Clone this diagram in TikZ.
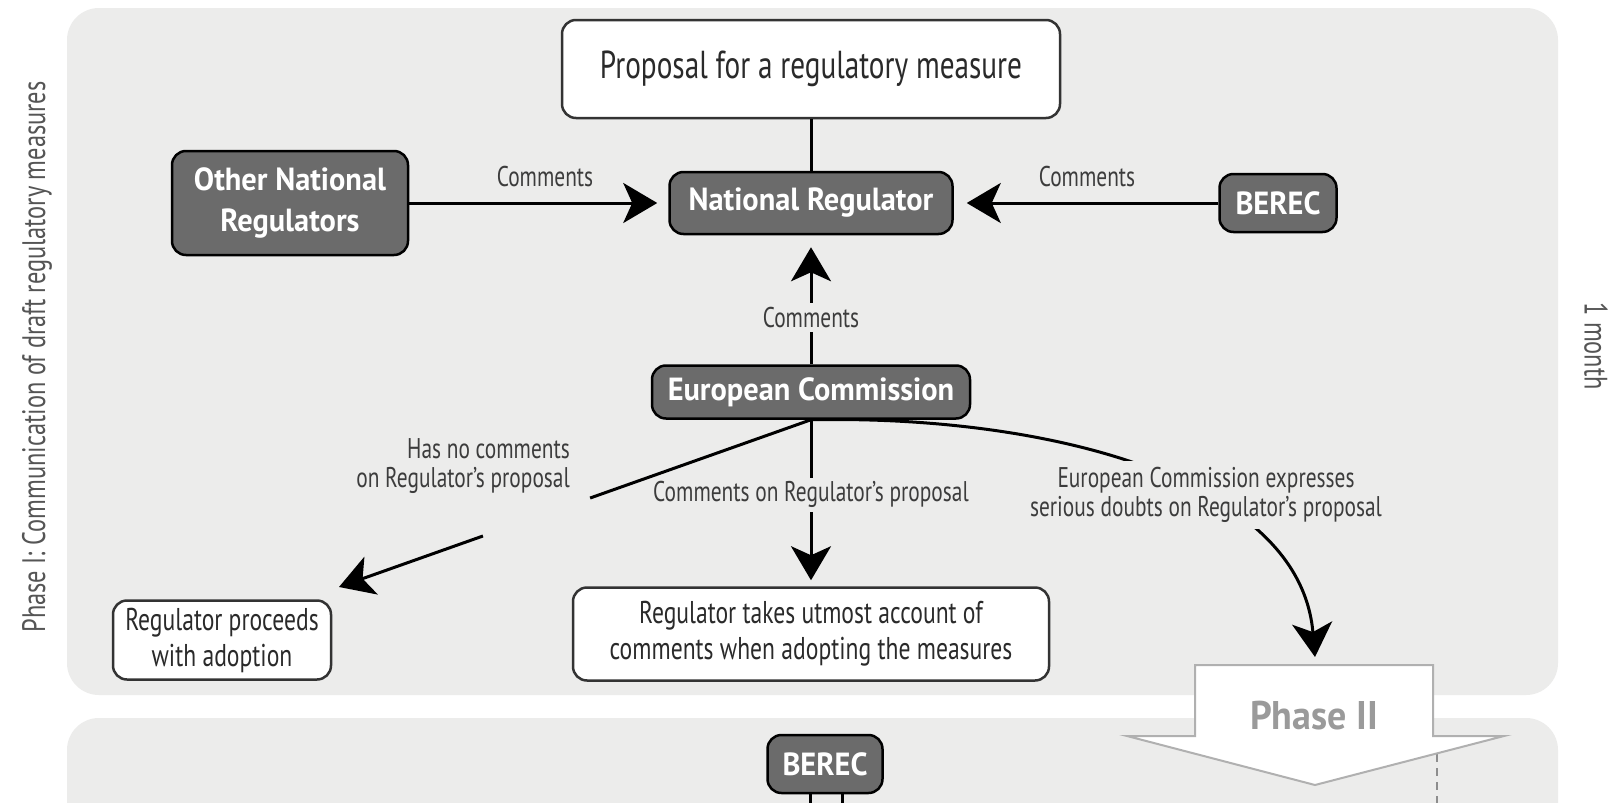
\documentclass[tikz,border=0pt]{standalone}
\usepackage{fontspec}
\usetikzlibrary{arrows.meta,calc}
\newfontfamily\regf{PT Sans}[FakeStretch=0.75]
\newfontfamily\boldf{PT Sans}[FakeStretch=0.95]
\definecolor{panel}{HTML}{ECECEB}
\definecolor{boxgray}{HTML}{6B6B6B}
\definecolor{edge}{HTML}{333333}
\definecolor{txt}{HTML}{2A2A2A}
\definecolor{lbltxt}{HTML}{3C3C3C}
\definecolor{sidetxt}{HTML}{555555}
\definecolor{phtext}{HTML}{9A9A9A}
\definecolor{phedge}{HTML}{B0B0B0}
\tikzset{
  darkbox/.style={draw=black, line width=2.5pt, fill=boxgray, rounded corners=14pt,
    text=white, font=\boldf\bfseries\fontsize{32}{41}\selectfont, align=center, inner sep=0pt},
  whitebox/.style={draw=edge, line width=2.5pt, fill=white, rounded corners=14pt,
    align=center, inner sep=0pt, text=txt},
  boxtext/.style={font=\regf\fontsize{31.5}{36}\selectfont},
  lbl/.style={font=\regf\fontsize{28.5}{29}\selectfont, text=lbltxt, inner sep=4pt},
  masklbl/.style={lbl, fill=panel},
  conn/.style={line width=3pt, draw=black},
  arr/.style={conn, -{Stealth[length=34pt,width=40pt,inset=9pt]}},
  sidelbl/.style={font=\regf\fontsize{32.5}{34}\selectfont, text=sidetxt}
}
\begin{document}
\begin{tikzpicture}[x=1pt,y=-1pt]
\clip (0,0) rectangle (1610,803);
\fill[white] (0,0) rectangle (1610,803);
% panels
\fill[panel, rounded corners=32pt] (67,8) rectangle (1558,695);
\fill[panel, rounded corners=32pt] (67,718) rectangle (1558,900);
% side labels
\node[sidelbl, rotate=90] (phaseone) at (37,357) {Phase I: Communication of draft regulatory measures};
\node[sidelbl, rotate=-90] (month) at (1596,346) {1 month};
% nodes
\node[whitebox, font=\regf\fontsize{39}{40}\selectfont, minimum width=498pt, minimum height=98pt] (prop) at (811,69) {Proposal for a regulatory measure};
\node[darkbox, minimum width=283pt, minimum height=62pt] (nr) at (811,203) {National Regulator};
\node[darkbox, minimum width=236pt, minimum height=104pt] (onr) at (290,203) {Other National\\Regulators};
\node[darkbox, minimum width=117pt, minimum height=58pt] (berec) at (1278,203) {BEREC};
\node[darkbox, minimum width=318pt, minimum height=53pt] (ec) at (811,392) {European Commission};
\node[whitebox, boxtext, minimum width=218pt, minimum height=79pt] (proc) at (222,640) {Regulator proceeds\\with adoption};
\node[whitebox, boxtext, minimum width=476pt, minimum height=93pt] (takes) at (811,634) {Regulator takes utmost account of\\comments when adopting the measures};
\node[darkbox, minimum width=115pt, minimum height=58pt] (berecb) at (825,764) {BEREC};
% connectors
\draw[conn] (prop.south) -- (nr.north);
\draw[arr, shorten >=11pt] (onr.east) -- (nr.west);
\node[lbl] (cl) at (545,177) {Comments};
\draw[arr, shorten >=13pt] (berec.west) -- (nr.east);
\node[lbl] (cr) at (1087,177) {Comments};
\draw[arr, shorten >=12pt] (ec.north) -- node[masklbl, pos=0.36] (cm) {Comments} (nr.south);
\draw[arr, shorten >=6pt] (ec.south) -- node[masklbl, pos=0.45] (cc) {Comments on Regulator’s proposal} (takes.north);
% left branch
\coordinate (tipl) at (339,587);
\draw[conn] (ec.south) -- ($(ec.south)!0.468!(tipl)$);
\draw[arr] ($(ec.south)!0.695!(tipl)$) -- (tipl);
\node[lbl, align=right, anchor=east] (hasno) at (574,466) {Has no comments\\on Regulator’s proposal};
% right branch
\coordinate (tipr) at (1315,657);
\draw[arr] (ec.south) .. controls (1050,415) and (1300,480) .. (tipr);
\node[masklbl, align=center, inner sep=6pt] (doubts) at (1206,495) {European Commission expresses\\serious doubts on Regulator’s proposal};
% bottom BEREC lines
\draw[conn] ([xshift=-15pt]berecb.south) -- ++(0,20);
\draw[conn] ([xshift=17pt]berecb.south) -- ++(0,20);
% dashed line
\draw[phedge!80!black, line width=2pt, dash pattern=on 8pt off 6pt] (1437,740) -- (1437,803);
% Phase II block arrow
\draw[line width=2pt, draw=phedge, fill=white] (1195,665) -- (1433,665) -- (1433,736) -- (1504,736) -- (1315,785) -- (1127,736) -- (1195,736) -- cycle;
\node[font=\boldf\bfseries\fontsize{40}{42}\selectfont, text=phtext] (phtwo) at (1314,716) {Phase II};
\end{tikzpicture}
\end{document}
